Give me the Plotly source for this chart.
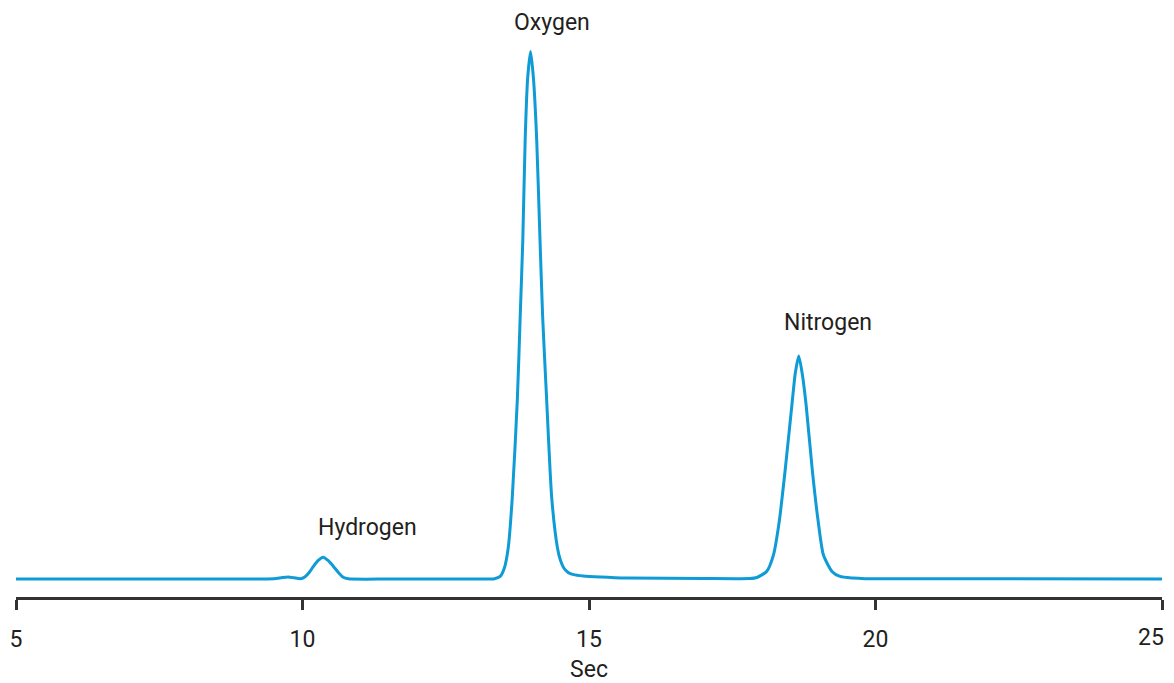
import plotly.graph_objects as go

# Retention time (s) and detector signal (relative units)
time_s = [5.0, 9.0, 9.5, 9.65, 9.75, 9.85, 9.96, 10.04, 10.12, 10.19, 10.27, 10.36,
          10.45, 10.54, 10.63, 10.71, 10.80, 11.5, 13.0, 13.35, 13.45, 13.52, 13.59,
          13.66, 13.75, 13.80, 13.845, 13.886, 13.93, 13.98, 14.03, 14.087, 14.14,
          14.19, 14.26, 14.35, 14.45, 14.50, 14.56, 14.63, 14.73, 14.9, 15.2, 15.66,
          17.0, 17.8, 17.93, 18.10, 18.22, 18.32, 18.42, 18.54, 18.60, 18.66, 18.72,
          18.79, 18.90, 19.00, 19.09, 19.24, 19.38, 19.6, 19.82, 22.0, 25.0]
signal = [0.0, 0.0, 0.05, 0.3, 0.4, 0.25, 0.05, 0.4, 1.3, 2.4, 3.5, 4.15,
          3.5, 2.4, 1.2, 0.35, 0.05, 0.0, 0.0, 0.05, 0.5, 2.0, 5.9,
          15.3, 34.2, 50.0, 64.4, 83.3, 95.0, 100.0, 95.0, 83.3, 66.0,
          50.0, 34.2, 15.3, 5.9, 3.6, 2.1, 1.3, 0.85, 0.6, 0.4, 0.2,
          0.1, 0.1, 0.3, 1.45, 4.6, 10.9, 20.3, 32.9, 39.0, 42.3, 39.0,
          32.9, 20.3, 10.9, 4.6, 1.45, 0.5, 0.2, 0.08, 0.05, 0.0]

peak_names = ["Hydrogen", "Oxygen", "Nitrogen"]
label_x = [11.13, 14.36, 19.17]
label_y = [9.8, 105.6, 48.6]

tick_vals = [5, 10, 15, 20, 25]
tick_text = ["5", "10", "15", "20", "25"]

FONT = "Roboto, Arial, sans-serif"
TEXT = "#231f20"

fig = go.Figure()
fig.add_trace(go.Scatter(
    x=time_s, y=signal, mode="lines",
    line=dict(color="#0e9bd6", width=3, shape="spline", smoothing=0.6),
    hoverinfo="skip", cliponaxis=False, showlegend=False,
))

for name, lx, ly in zip(peak_names, label_x, label_y):
    fig.add_annotation(x=lx, y=ly, xref="x", yref="y", text=name,
                       showarrow=False, font=dict(family=FONT, size=23, color=TEXT),
                       xanchor="center", yanchor="middle")

# last tick label is drawn as an annotation, right-aligned so it stays inside the window
axis_text = tick_text[:-1] + [""]
fig.add_annotation(x=tick_vals[-1], y=0, xref="x", yref="paper", text=tick_text[-1],
                   showarrow=False, font=dict(family=FONT, size=23, color=TEXT),
                   xanchor="right", yanchor="middle", xshift=3, yshift=-40, borderpad=0)

# the page body keeps its default 8px margin; the figure is offset by it
fig.update_layout(
    width=1174, height=675,
    margin=dict(l=8, r=20, t=0, b=84),
    paper_bgcolor="white", plot_bgcolor="white",
    font=dict(family=FONT, size=22, color=TEXT),
)
fig.update_xaxes(
    range=[5, 25], tickvals=tick_vals, ticktext=axis_text,
    showline=True, linecolor="#333333", linewidth=2.5,
    ticks="outside", ticklen=10, tickwidth=2.5, tickcolor="#333333",
    ticklabelstandoff=10, ticklabeloverflow="allow",
    showgrid=False, zeroline=False,
    tickfont=dict(family=FONT, size=23, color=TEXT),
    title=dict(text="Sec", font=dict(family=FONT, size=23, color=TEXT), standoff=14),
)
fig.update_yaxes(range=[-3.40, 108.26], visible=False, showgrid=False, zeroline=False)

fig.write_html("out.html", config={"displayModeBar": False})
